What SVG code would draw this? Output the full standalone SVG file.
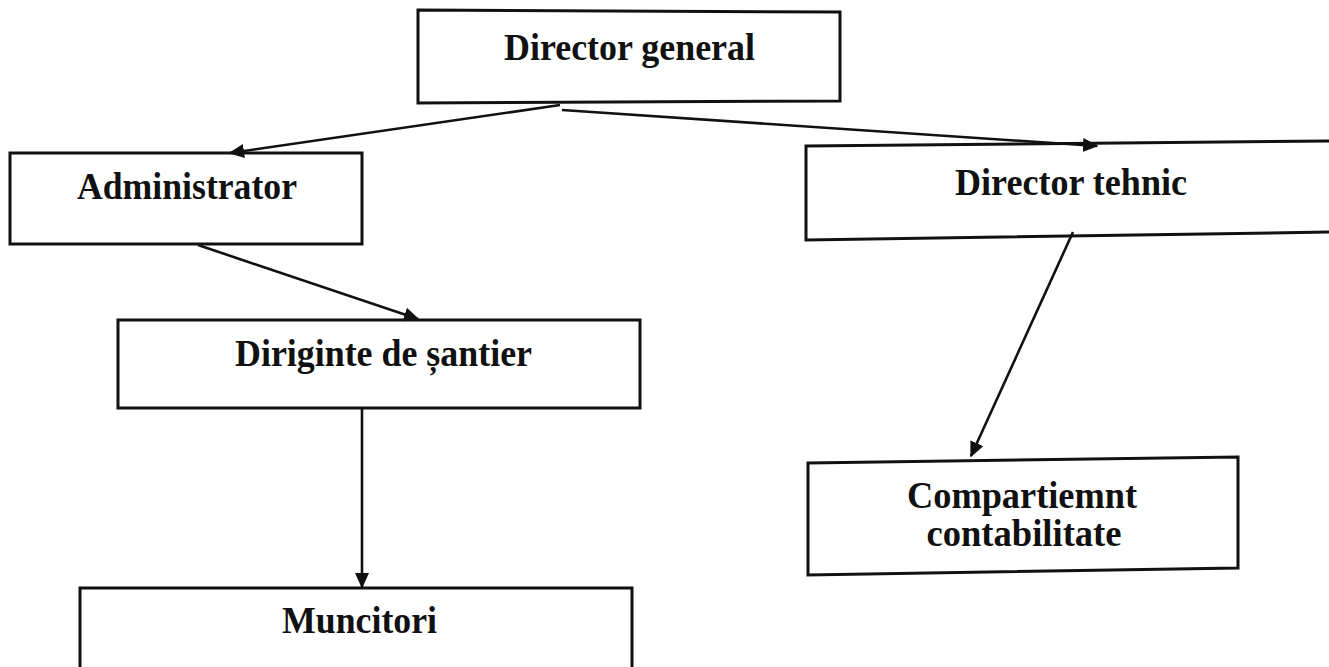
<svg xmlns="http://www.w3.org/2000/svg" width="1329" height="667" viewBox="0 0 1329 667">
<defs>
<marker id="ah" viewBox="0 0 10 10" refX="9" refY="5" markerWidth="6" markerHeight="6" markerUnits="strokeWidth" orient="auto">
<path d="M0,0.5 L10,5 L0,9.5 z" fill="#111"/>
</marker>
<style>
.box{fill:#fff;stroke:#111;stroke-width:3}
.t{font-family:"Liberation Serif","Times New Roman",serif;font-weight:bold;font-size:38px;fill:#111;text-anchor:middle}
.c{stroke:#111;stroke-width:2.6;fill:none;marker-end:url(#ah)}
</style>
</defs>
<rect width="1329" height="667" fill="#fff"/>
<g id="n-director-general">
<polygon class="box" points="418,10 840,12 840,101 418,103"/>
<text class="t" x="629.5" y="60" textLength="251" lengthAdjust="spacingAndGlyphs">Director general</text>
</g>
<g id="n-administrator">
<rect class="box" x="10" y="153" width="352" height="91"/>
<text class="t" x="187" y="199" textLength="220" lengthAdjust="spacingAndGlyphs">Administrator</text>
</g>
<g id="n-director-tehnic">
<polygon class="box" points="806,146 1332,141 1332,232 806,240"/>
<text class="t" x="1071" y="195" textLength="232" lengthAdjust="spacingAndGlyphs">Director tehnic</text>
</g>
<g id="n-diriginte">
<rect class="box" x="118" y="320" width="522" height="88"/>
<text class="t" x="383.5" y="366" textLength="297" lengthAdjust="spacingAndGlyphs">Diriginte de șantier</text>
</g>
<g id="n-muncitori">
<rect class="box" x="80" y="588" width="552" height="90"/>
<text class="t" x="359.5" y="633" textLength="155" lengthAdjust="spacingAndGlyphs">Muncitori</text>
</g>
<g id="n-compartiment">
<polygon class="box" points="808,463 1238,457 1238,568 808,575"/>
<text class="t" x="1022" y="508" textLength="230" lengthAdjust="spacingAndGlyphs">Compartiemnt</text>
<text class="t" x="1024" y="546" textLength="195" lengthAdjust="spacingAndGlyphs">contabilitate</text>
</g>
<g id="connectors">
<line class="c" x1="560" y1="105" x2="230" y2="153"/>
<line class="c" x1="562" y1="110" x2="1097" y2="146"/>
<line class="c" x1="198" y1="245" x2="418" y2="319"/>
<line class="c" x1="1073" y1="232" x2="971" y2="456"/>
<line class="c" x1="362" y1="409" x2="362" y2="587"/>
</g>
</svg>
